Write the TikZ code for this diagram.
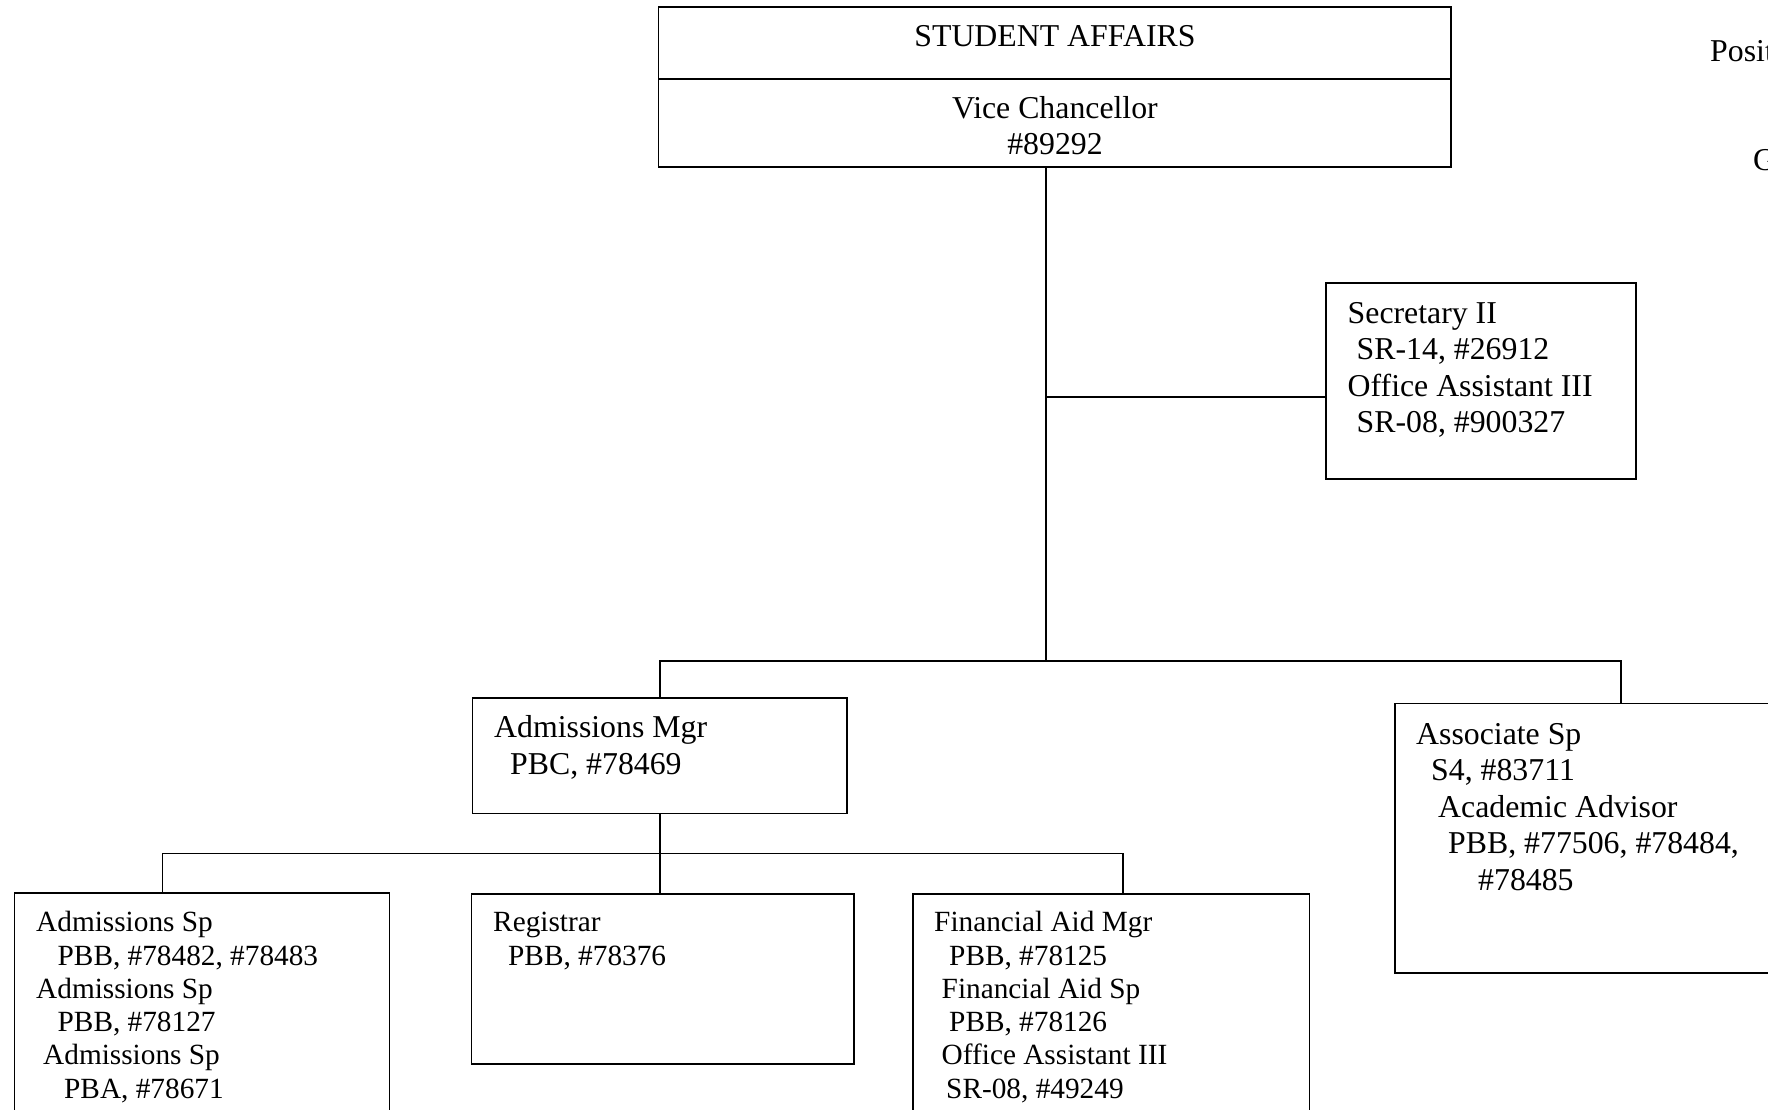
\documentclass[tikz,border=0pt]{standalone}
\usepackage{fontspec}
\setmainfont{Liberation Serif}
\begin{document}
\begin{tikzpicture}[x=1pt,y=-1pt,
  box/.style={draw=black, line width=1.8pt, rectangle, inner sep=0pt, outer sep=0pt, anchor=north west},
  con/.style={draw=black, line width=1.6pt},
  up/.style={inner sep=0pt, anchor=base west, align=left, font=\fontsize{31.8}{36.6}\selectfont},
  upc/.style={inner sep=0pt, anchor=base, align=center, font=\fontsize{31.8}{36}\selectfont},
  low/.style={inner sep=0pt, anchor=base west, align=left, font=\fontsize{29.3}{33.3}\selectfont}]
\useasboundingbox (0,0) rectangle (1768,1110);
\clip (0,0) rectangle (1768,1110);
\fill[white] (0,0) rectangle (1768,1110);

% boxes
\node[box, minimum width=792.5pt, minimum height=72pt] (sa) at (658.5,7) {};
\node[box, minimum width=792.5pt, minimum height=88pt] (vc) at (658.5,79) {};
\node[box, minimum width=310pt, minimum height=196pt] (sec) at (1326,283) {};
\node[box, minimum width=374.5pt, minimum height=115.5pt] (am) at (472.5,698) {};
\node[box, minimum width=405pt, minimum height=269.5pt] (as) at (1395,703.5) {};
\node[box, minimum width=375pt, minimum height=237pt] (ads) at (14.5,893) {};
\node[box, minimum width=382.5pt, minimum height=170pt] (reg) at (471.5,894) {};
\node[box, minimum width=396.5pt, minimum height=236pt] (fin) at (913,894) {};

% texts (base anchor = baseline of the last line)
\node[upc] (tsa) at (1055,47) {STUDENT AFFAIRS};
\node[upc] (tvc) at (1055,155) {Vice Chancellor\\\#89292};
\node[up] (tsec) at (1347.5,432.8) {Secretary II\\\hspace*{9pt}SR-14, \#26912\\Office Assistant III\\\hspace*{9pt}SR-08, \#900327};
\node[up] (tam) at (494,774) {Admissions Mgr\\\hspace*{16pt}PBC, \#78469};
\node[up] (tas) at (1416,890.4) {Associate Sp\\\hspace*{15pt}S4, \#83711\\\hspace*{22pt}Academic Advisor\\\hspace*{32pt}PBB, \#77506, \#78484,\\\hspace*{62pt}\#78485};
\node[low] (tads) at (36,1098.2) {Admissions Sp\\\hspace*{21.5pt}PBB, \#78482, \#78483\\Admissions Sp\\\hspace*{21.5pt}PBB, \#78127\\\hspace*{7pt}Admissions Sp\\\hspace*{28pt}PBA, \#78671};
\node[low] (treg) at (493,965) {Registrar\\\hspace*{15pt}PBB, \#78376};
\node[low] (tfin) at (934,1098.2) {Financial Aid Mgr\\\hspace*{15pt}PBB, \#78125\\\hspace*{7.5pt}Financial Aid Sp\\\hspace*{15pt}PBB, \#78126\\\hspace*{7.5pt}Office Assistant III\\\hspace*{12pt}SR-08, \#49249};
\node[up] (tpos) at (1710,61.7) {Posit};
\node[up] (tg) at (1753,171) {G};

% junctions
\coordinate (j1) at (1046,661);
\coordinate (jsec) at (1046,397);
\coordinate (jr) at (1621,661);
\coordinate (jl) at (162.4,853.6);
\coordinate (jf) at (1123,853.6);

% connectors
\draw[con] (vc.south -| j1) -- (j1);
\draw[con] (jsec) -- (jsec -| sec.west);
\draw[con] (am.north) |- (jr) -- (jr |- as.north);
\draw[con] (am.south) -- (am.south |- reg.north);
\draw[con] (jl |- ads.north) -- (jl) -- (jf) -- (jf |- fin.north);
\end{tikzpicture}
\end{document}
